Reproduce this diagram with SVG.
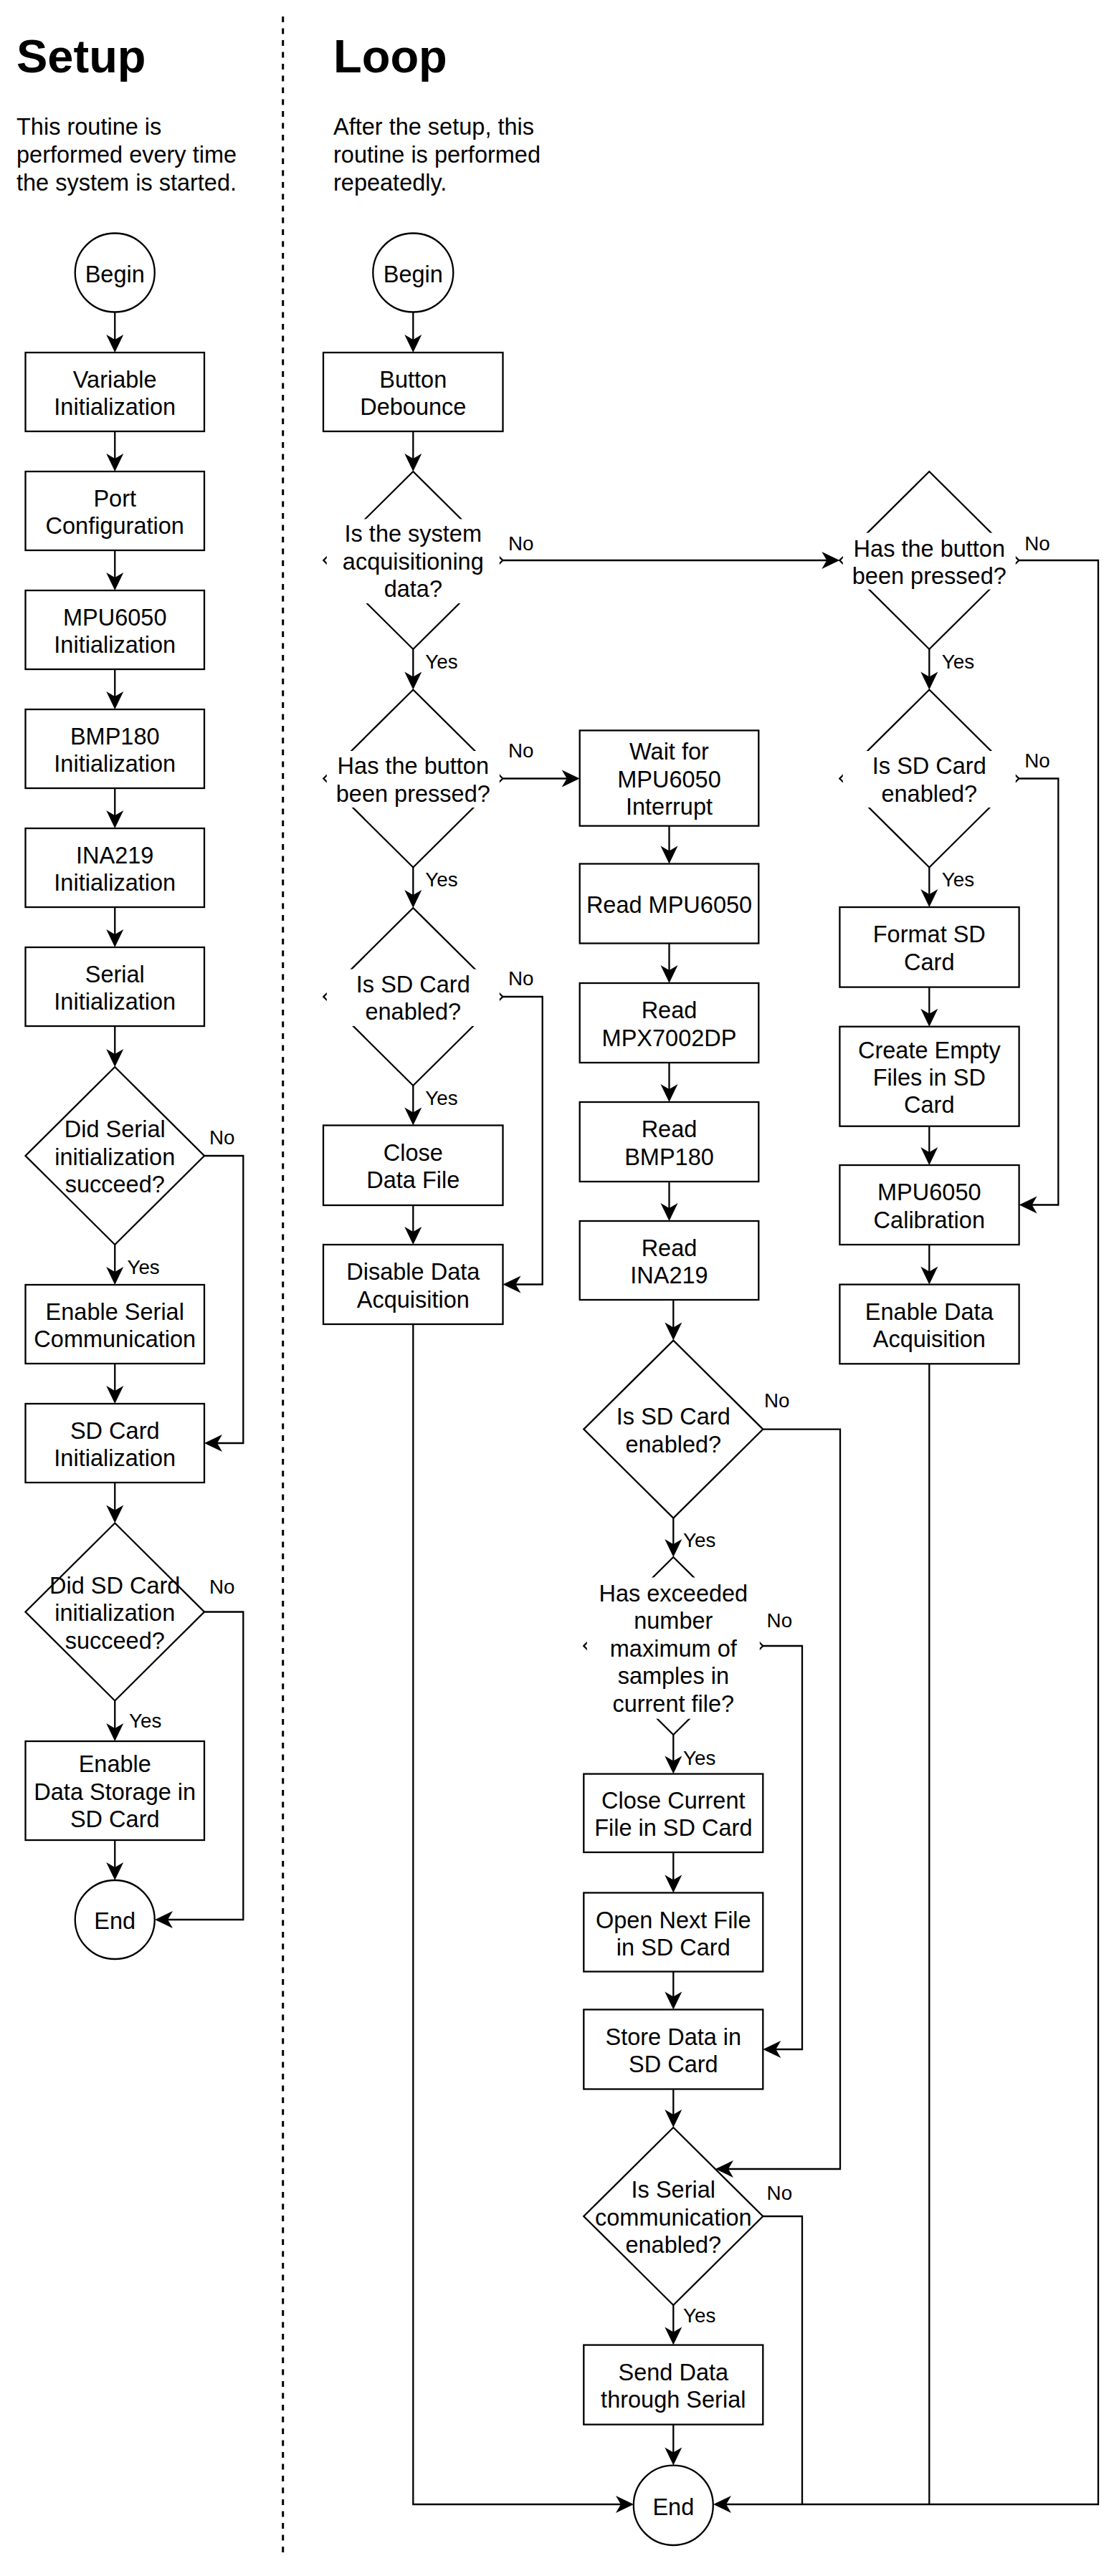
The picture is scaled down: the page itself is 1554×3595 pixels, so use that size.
<svg xmlns="http://www.w3.org/2000/svg" width="1554" height="3595" viewBox="0 0 1554 3595">
<style>
.n{fill:#fff;stroke:#000;stroke-width:2.3}
.c{fill:none;stroke:#000;stroke-width:2.3}
.bg{fill:#fff;stroke:none}
.t{font-family:"Liberation Sans",Arial,Helvetica,sans-serif;font-size:32.5px;text-anchor:middle;fill:#000}
.d{font-family:"Liberation Sans",Arial,Helvetica,sans-serif;font-size:32.5px;fill:#000}
.h{font-family:"Liberation Sans",Arial,Helvetica,sans-serif;font-size:65px;font-weight:bold;fill:#000}
.l{font-family:"Liberation Sans",Arial,Helvetica,sans-serif;font-size:27.8px;fill:#000}
</style>
<defs>
<marker id="arr" markerUnits="userSpaceOnUse" viewBox="-26 -13 27 26" refX="-10" refY="0" markerWidth="27" markerHeight="26" orient="auto">
<path d="M0,0 L-25,-12 L-18,0 L-25,12 Z" fill="#000"/>
</marker>
</defs>
<rect width="1554" height="3595" fill="#fff"/>

<g id="titles">
<line x1="394.7" y1="23" x2="394.7" y2="3565" stroke="#000" stroke-width="3" stroke-dasharray="8 8.5"/>
<text class="h" x="23" y="100.5">Setup</text>
<text class="d" x="23" y="188.3">This routine is<tspan x="23" dy="39">performed every time</tspan><tspan x="23" dy="39">the system is started.</tspan></text>
<text class="h" x="465" y="100.5">Loop</text>
<text class="d" x="465" y="188.3">After the setup, this<tspan x="465" dy="39">routine is performed</tspan><tspan x="465" dy="39">repeatedly.</tspan></text>
</g>

<g id="connectors" marker-end="url(#arr)">
<path class="c" d="M160.25,436 V482"/>
<path class="c" d="M160.25,602 V648"/>
<path class="c" d="M160.25,768 V814"/>
<path class="c" d="M160.25,934 V980"/>
<path class="c" d="M160.25,1100 V1146"/>
<path class="c" d="M160.25,1266 V1312"/>
<path class="c" d="M160.25,1432 V1479"/>
<path class="c" d="M160.25,1737 V1783"/>
<path class="c" d="M285,1613 H339.3 V2014 H295"/>
<path class="c" d="M160.25,1903 V1949"/>
<path class="c" d="M160.25,2069 V2115.5"/>
<path class="c" d="M160.25,2373.5 V2420"/>
<path class="c" d="M285,2249.5 H339.3 V2679 H226"/>
<path class="c" d="M160.25,2568 V2614"/>

<path class="c" d="M576.3,436 V482"/>
<path class="c" d="M576.3,602 V648"/>
<path class="c" d="M576.3,906 V952.5"/>
<path class="c" d="M701.3,782 H1161.3"/>
<path class="c" d="M701.3,1086.5 H798.7"/>
<path class="c" d="M576.3,1210.5 V1257"/>
<path class="c" d="M701.3,1391 H756.7 V1792.5 H711.5"/>
<path class="c" d="M576.3,1515 V1560.5"/>
<path class="c" d="M576.3,1682 V1727"/>
<path class="c" d="M576.3,1848 V3495 H874"/>

<path class="c" d="M933.5,1152.6 V1195.5"/>
<path class="c" d="M933.5,1316.5 V1362"/>
<path class="c" d="M933.5,1483 V1528"/>
<path class="c" d="M933.5,1649 V1694"/>
<path class="c" d="M939.3,1814 V1860.6"/>
<path class="c" d="M939.3,2118.6 V2163"/>
<path class="c" d="M1064.3,1994.6 H1172 V3027 H1008"/>
<path class="c" d="M939.3,2421 V2465.6"/>
<path class="c" d="M1064.3,2297 H1119 V2860 H1074.3"/>
<path class="c" d="M939.3,2585 V2631.5"/>
<path class="c" d="M939.3,2751.5 V2794.5"/>
<path class="c" d="M939.3,2915.5 V2959"/>
<path class="c" d="M939.3,3217 V3262.6"/>
<path class="c" d="M1064.3,3093 H1119 V3495" marker-end="none"/>
<path class="c" d="M939.3,3383.6 V3430.6"/>

<path class="c" d="M1296.3,906 V952.5"/>
<path class="c" d="M1421.3,1086.5 H1476.3 V1681.5 H1431.6"/>
<path class="c" d="M1296.3,1210.5 V1256"/>
<path class="c" d="M1296.3,1377.6 V1422.7"/>
<path class="c" d="M1296.3,1571.7 V1616"/>
<path class="c" d="M1296.3,1737 V1782.6"/>
<path class="c" d="M1296.3,1903.3 V3495" marker-end="none"/>
<path class="c" d="M1421.3,782 H1532 V3495 H1005"/>
</g>

<g id="edge-labels">
<text class="l" x="292" y="1597">No</text>
<text class="l" x="177.4" y="1778">Yes</text>
<text class="l" x="292" y="2224">No</text>
<text class="l" x="180" y="2411">Yes</text>
<text class="l" x="709" y="767.5">No</text>
<text class="l" x="593.3" y="932.7">Yes</text>
<text class="l" x="709" y="1056.7">No</text>
<text class="l" x="593.3" y="1237">Yes</text>
<text class="l" x="709" y="1375.3">No</text>
<text class="l" x="593.3" y="1542">Yes</text>
<text class="l" x="1429.3" y="767.6">No</text>
<text class="l" x="1313.8" y="932.7">Yes</text>
<text class="l" x="1429.3" y="1071">No</text>
<text class="l" x="1313.8" y="1237">Yes</text>
<text class="l" x="1066" y="1963.7">No</text>
<text class="l" x="953" y="2158.9">Yes</text>
<text class="l" x="1069.6" y="2270.8">No</text>
<text class="l" x="953" y="2463">Yes</text>
<text class="l" x="1069.6" y="3070">No</text>
<text class="l" x="953" y="3241">Yes</text>
</g>

<g id="s-begin"><ellipse class="n" cx="160.25" cy="380.5" rx="55.5" ry="55"/><text class="t" x="160.25" y="394">Begin</text></g>
<g id="s-var"><rect class="n" x="35.5" y="492" width="249.5" height="110"/><text class="t" x="160.25" y="540.6">Variable<tspan x="160.25" dy="38.4">Initialization</tspan></text></g>
<g id="s-port"><rect class="n" x="35.5" y="658" width="249.5" height="110"/><text class="t" x="160.25" y="706.6">Port<tspan x="160.25" dy="38.4">Configuration</tspan></text></g>
<g id="s-mpu"><rect class="n" x="35.5" y="824" width="249.5" height="110"/><text class="t" x="160.25" y="872.6">MPU6050<tspan x="160.25" dy="38.4">Initialization</tspan></text></g>
<g id="s-bmp"><rect class="n" x="35.5" y="990" width="249.5" height="110"/><text class="t" x="160.25" y="1038.6">BMP180<tspan x="160.25" dy="38.4">Initialization</tspan></text></g>
<g id="s-ina"><rect class="n" x="35.5" y="1156" width="249.5" height="110"/><text class="t" x="160.25" y="1204.6">INA219<tspan x="160.25" dy="38.4">Initialization</tspan></text></g>
<g id="s-serial"><rect class="n" x="35.5" y="1322" width="249.5" height="110"/><text class="t" x="160.25" y="1370.6">Serial<tspan x="160.25" dy="38.4">Initialization</tspan></text></g>
<g id="s-dec-serial"><polygon class="n" points="160.25,1489 285,1613 160.25,1737 35.5,1613"/><text class="t" x="160.25" y="1587.4">Did Serial<tspan x="160.25" dy="38.4">initialization</tspan><tspan x="160.25" dy="38.4">succeed?</tspan></text></g>
<g id="s-enserial"><rect class="n" x="35.5" y="1793" width="249.5" height="110"/><text class="t" x="160.25" y="1841.6">Enable Serial<tspan x="160.25" dy="38.4">Communication</tspan></text></g>
<g id="s-sdinit"><rect class="n" x="35.5" y="1959" width="249.5" height="110"/><text class="t" x="160.25" y="2007.6">SD Card<tspan x="160.25" dy="38.4">Initialization</tspan></text></g>
<g id="s-dec-sd"><polygon class="n" points="160.25,2125.5 285,2249.5 160.25,2373.5 35.5,2249.5"/><text class="t" x="160.25" y="2223.9">Did SD Card<tspan x="160.25" dy="38.4">initialization</tspan><tspan x="160.25" dy="38.4">succeed?</tspan></text></g>
<g id="s-enstore"><rect class="n" x="35.5" y="2430" width="249.5" height="138"/><text class="t" x="160.25" y="2473.4">Enable<tspan x="160.25" dy="38.4">Data Storage in</tspan><tspan x="160.25" dy="38.4">SD Card</tspan></text></g>
<g id="s-end"><ellipse class="n" cx="160.25" cy="2679" rx="55.5" ry="55"/><text class="t" x="160.25" y="2692">End</text></g>

<g id="l-begin"><ellipse class="n" cx="576.3" cy="380.5" rx="56" ry="55"/><text class="t" x="576.3" y="394">Begin</text></g>
<g id="l-debounce"><rect class="n" x="451" y="492" width="250.5" height="110"/><text class="t" x="576.3" y="540.6">Button<tspan x="576.3" dy="38.4">Debounce</tspan></text></g>
<g id="l-dec-acq"><polygon class="n" points="576.3,658 701.3,782 576.3,906 451.3,782"/><rect class="bg" x="455.8" y="724.4" width="241" height="117.6"/><text class="t" x="576.3" y="756.4">Is the system<tspan x="576.3" dy="38.4">acquisitioning</tspan><tspan x="576.3" dy="38.4">data?</tspan></text></g>
<g id="l-dec-btn"><polygon class="n" points="576.3,962.5 701.3,1086.5 576.3,1210.5 451.3,1086.5"/><rect class="bg" x="455.8" y="1048" width="241" height="79"/><text class="t" x="576.3" y="1080.1">Has the button<tspan x="576.3" dy="38.4">been pressed?</tspan></text></g>
<g id="l-dec-sd"><polygon class="n" points="576.3,1267 701.3,1391 576.3,1515 451.3,1391"/><rect class="bg" x="455.8" y="1352.6" width="241" height="79.4"/><text class="t" x="576.3" y="1384.6">Is SD Card<tspan x="576.3" dy="38.4">enabled?</tspan></text></g>
<g id="l-close"><rect class="n" x="451" y="1570.5" width="250.5" height="111.5"/><text class="t" x="576.3" y="1619.9">Close<tspan x="576.3" dy="38.4">Data File</tspan></text></g>
<g id="l-disable"><rect class="n" x="451" y="1737" width="250.5" height="111"/><text class="t" x="576.3" y="1786.1">Disable Data<tspan x="576.3" dy="38.4">Acquisition</tspan></text></g>

<g id="m-wait"><rect class="n" x="808.7" y="1019.4" width="249.6" height="133.2"/><text class="t" x="933.5" y="1060.4">Wait for<tspan x="933.5" dy="38.4">MPU6050</tspan><tspan x="933.5" dy="38.4">Interrupt</tspan></text></g>
<g id="m-rmpu"><rect class="n" x="808.7" y="1205.5" width="249.6" height="111"/><text class="t" x="933.5" y="1273.8">Read MPU6050</text></g>
<g id="m-rmpx"><rect class="n" x="808.7" y="1372" width="249.6" height="111"/><text class="t" x="933.5" y="1421.1">Read<tspan x="933.5" dy="38.4">MPX7002DP</tspan></text></g>
<g id="m-rbmp"><rect class="n" x="808.7" y="1538" width="249.6" height="111"/><text class="t" x="933.5" y="1587.1">Read<tspan x="933.5" dy="38.4">BMP180</tspan></text></g>
<g id="m-rina"><rect class="n" x="808.7" y="1704" width="249.6" height="110"/><text class="t" x="933.5" y="1752.6">Read<tspan x="933.5" dy="38.4">INA219</tspan></text></g>
<g id="m-dec-sd"><polygon class="n" points="939.3,1870.6 1064.3,1994.6 939.3,2118.6 814.3,1994.6"/><text class="t" x="939.3" y="1988.2">Is SD Card<tspan x="939.3" dy="38.4">enabled?</tspan></text></g>
<g id="m-dec-max"><polygon class="n" points="939.3,2173 1064.3,2297 939.3,2421 814.3,2297"/><rect class="bg" x="818.8" y="2201.5" width="241" height="197.2"/><text class="t" x="939.3" y="2234.5">Has exceeded<tspan x="939.3" dy="38.6">number</tspan><tspan x="939.3" dy="38.6">maximum of</tspan><tspan x="939.3" dy="38.6">samples in</tspan><tspan x="939.3" dy="38.6">current file?</tspan></text></g>
<g id="m-closecur"><rect class="n" x="814.3" y="2475.6" width="250" height="109.4"/><text class="t" x="939.3" y="2523.9">Close Current<tspan x="939.3" dy="38.4">File in SD Card</tspan></text></g>
<g id="m-opennext"><rect class="n" x="814.3" y="2641.5" width="250" height="110"/><text class="t" x="939.3" y="2690.6">Open Next File<tspan x="939.3" dy="38.4">in SD Card</tspan></text></g>
<g id="m-store"><rect class="n" x="814.3" y="2804.5" width="250" height="111"/><text class="t" x="939.3" y="2853.6">Store Data in<tspan x="939.3" dy="38.4">SD Card</tspan></text></g>
<g id="m-dec-serial"><polygon class="n" points="939.3,2969 1064.3,3093 939.3,3217 814.3,3093"/><text class="t" x="939.3" y="3067.4">Is Serial<tspan x="939.3" dy="38.4">communication</tspan><tspan x="939.3" dy="38.4">enabled?</tspan></text></g>
<g id="m-send"><rect class="n" x="814.3" y="3272.6" width="250" height="111"/><text class="t" x="939.3" y="3321.7">Send Data<tspan x="939.3" dy="38.4">through Serial</tspan></text></g>
<g id="m-end"><ellipse class="n" cx="939.3" cy="3496.3" rx="55.5" ry="55.7"/><text class="t" x="939.3" y="3509.5">End</text></g>

<g id="r-dec-btn"><polygon class="n" points="1296.3,658 1421.3,782 1296.3,906 1171.3,782"/><rect class="bg" x="1175.8" y="743.6" width="241" height="79"/><text class="t" x="1296.3" y="776.5">Has the button<tspan x="1296.3" dy="38.4">been pressed?</tspan></text></g>
<g id="r-dec-sd"><polygon class="n" points="1296.3,962.5 1421.3,1086.5 1296.3,1210.5 1171.3,1086.5"/><rect class="bg" x="1175.8" y="1048" width="241" height="79"/><text class="t" x="1296.3" y="1080.1">Is SD Card<tspan x="1296.3" dy="38.4">enabled?</tspan></text></g>
<g id="r-format"><rect class="n" x="1171.4" y="1266" width="250.2" height="111.6"/><text class="t" x="1296.3" y="1315.4">Format SD<tspan x="1296.3" dy="38.4">Card</tspan></text></g>
<g id="r-create"><rect class="n" x="1171.4" y="1432.7" width="250.2" height="139"/><text class="t" x="1296.3" y="1476.6">Create Empty<tspan x="1296.3" dy="38.4">Files in SD</tspan><tspan x="1296.3" dy="38.4">Card</tspan></text></g>
<g id="r-calib"><rect class="n" x="1171.4" y="1626" width="250.2" height="111"/><text class="t" x="1296.3" y="1675.1">MPU6050<tspan x="1296.3" dy="38.4">Calibration</tspan></text></g>
<g id="r-enacq"><rect class="n" x="1171.4" y="1792.6" width="250.2" height="110.7"/><text class="t" x="1296.3" y="1841.6">Enable Data<tspan x="1296.3" dy="38.4">Acquisition</tspan></text></g>
</svg>
